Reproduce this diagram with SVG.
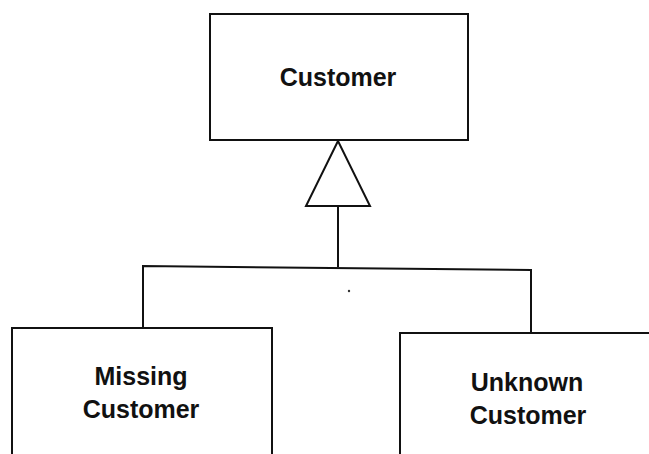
<svg xmlns="http://www.w3.org/2000/svg" width="649" height="454" viewBox="0 0 649 454">
<style>
.box{fill:#fff;stroke:#111;stroke-width:2}
.ln{fill:none;stroke:#111;stroke-width:2}
.t{font-family:"Liberation Sans",Arial,sans-serif;font-weight:bold;font-size:25px;fill:#111;text-anchor:middle}
</style>
<rect width="649" height="454" fill="#fff"/>
<g id="connectors">
<polyline class="ln" points="338,205 338,267"/>
<polyline class="ln" points="143,327 143,266 531,270 531,332"/>
<polygon class="ln" points="338,141 306,206 370,206" fill="#fff"/>
<circle cx="349" cy="291" r="1.2" fill="#333"/>
</g>
<g id="customer">
<rect class="box" x="210" y="14" width="258" height="126"/>
<text class="t" x="338" y="86">Customer</text>
</g>
<g id="missing">
<rect class="box" x="12" y="328" width="260" height="130"/>
<text class="t" x="141" y="385">Missing</text>
<text class="t" x="141" y="418">Customer</text>
</g>
<g id="unknown">
<rect class="box" x="400" y="333" width="255" height="125"/>
<text class="t" x="527" y="391">Unknown</text>
<text class="t" x="528" y="424">Customer</text>
</g>
</svg>
